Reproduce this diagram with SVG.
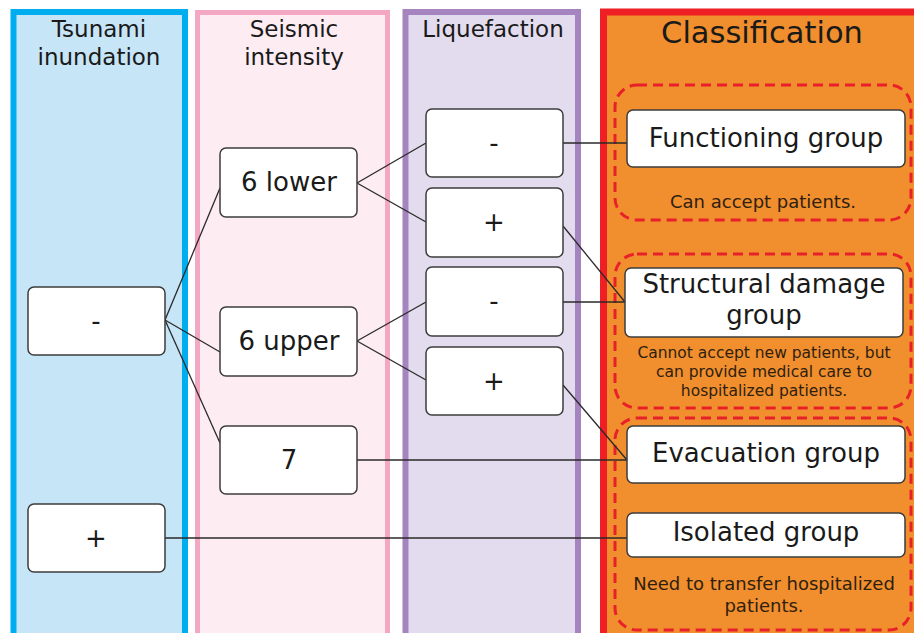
<svg xmlns="http://www.w3.org/2000/svg" width="914" height="633" viewBox="0 0 914 633">
<style>
.col{stroke-width:6}
.box{fill:#ffffff;stroke:#3c3c3c;stroke-width:1.5}
.t{font-family:"DejaVu Sans",Verdana,sans-serif;fill:#1a1a1a;text-anchor:middle}
.h{font-size:23px}
.b{font-size:26px}
.d{font-size:18px;fill:#2e1f10}
.ds{font-size:15.5px}
.dash{fill:none;stroke:#e8202a;stroke-width:3;stroke-dasharray:10 6}
.c{stroke:#2a2a2a;stroke-width:1.3;fill:none}
</style>
<rect x="0" y="0" width="914" height="633" fill="#ffffff"/>
<g id="columns">
<rect class="col" x="13.5" y="12" width="171.5" height="640" fill="#c6e5f7" stroke="#00aeef"/>
<rect class="col" x="197.5" y="12.5" width="190" height="640" fill="#fdecf2" stroke="#f3a7c3" style="stroke-width:5"/>
<rect class="col" x="405.5" y="12" width="172.5" height="640" fill="#e3dcee" stroke="#a584c0"/>
<rect x="603.5" y="12" width="330" height="640" fill="#f18e2d" stroke="#ee1f25" stroke-width="7"/>
<text class="t h" x="99" y="37">Tsunami</text>
<text class="t h" x="99" y="65">inundation</text>
<text class="t h" x="294" y="37">Seismic</text>
<text class="t h" x="294" y="65">intensity</text>
<text class="t h" x="493" y="37">Liquefaction</text>
<text class="t" x="762" y="43" style="font-size:30.5px">Classification</text>
</g>
<g id="regions">
<rect class="dash" x="615" y="85" width="296" height="135" rx="22"/>
<rect class="dash" x="615" y="254" width="296" height="154" rx="22"/>
<rect class="dash" x="615" y="418" width="296" height="212" rx="22"/>
</g>
<g id="connectors">
<line class="c" x1="165" y1="320" x2="220" y2="188"/>
<line class="c" x1="165" y1="320" x2="220" y2="352"/>
<line class="c" x1="165" y1="320" x2="220" y2="443"/>
<line class="c" x1="165" y1="538" x2="627" y2="538"/>
<line class="c" x1="357" y1="183" x2="426" y2="143"/>
<line class="c" x1="357" y1="183" x2="426" y2="222"/>
<line class="c" x1="357" y1="341" x2="426" y2="302"/>
<line class="c" x1="357" y1="341" x2="426" y2="380"/>
<line class="c" x1="357" y1="460" x2="627" y2="460"/>
<line class="c" x1="563" y1="143" x2="627" y2="143"/>
<line class="c" x1="563" y1="226" x2="625" y2="302"/>
<line class="c" x1="563" y1="302" x2="625" y2="302"/>
<line class="c" x1="563" y1="385" x2="627" y2="460"/>
</g>
<g id="tsunami-minus"><rect class="box" x="28" y="287" width="137" height="68" rx="6"/><text class="t b" x="96" y="330">-</text></g>
<g id="tsunami-plus"><rect class="box" x="28" y="504" width="137" height="68" rx="6"/><text class="t b" x="96" y="547">+</text></g>
<g id="seismic-6lower"><rect class="box" x="220" y="148" width="137" height="69" rx="6"/><text class="t b" x="289" y="191">6 lower</text></g>
<g id="seismic-6upper"><rect class="box" x="220" y="307" width="137" height="69" rx="6"/><text class="t b" x="289" y="350">6 upper</text></g>
<g id="seismic-7"><rect class="box" x="220" y="426" width="137" height="68" rx="6"/><text class="t b" x="289" y="469">7</text></g>
<g id="liq-1"><rect class="box" x="426" y="109" width="137" height="68" rx="6"/><text class="t b" x="494" y="152">-</text></g>
<g id="liq-2"><rect class="box" x="426" y="188" width="137" height="69" rx="6"/><text class="t b" x="494" y="231">+</text></g>
<g id="liq-3"><rect class="box" x="426" y="267" width="137" height="69" rx="6"/><text class="t b" x="494" y="310">-</text></g>
<g id="liq-4"><rect class="box" x="426" y="347" width="137" height="68" rx="6"/><text class="t b" x="494" y="390">+</text></g>
<g id="functioning"><rect class="box" x="627" y="110" width="278" height="57" rx="6"/><text class="t b" x="766" y="147">Functioning group</text><text class="t d" x="763" y="208">Can accept patients.</text></g>
<g id="structural"><rect class="box" x="625" y="268" width="278" height="69" rx="6"/><text class="t b" x="764" y="293">Structural damage</text><text class="t b" x="764" y="324">group</text><text class="t d ds" x="764" y="358">Cannot accept new patients, but</text><text class="t d ds" x="764" y="377">can provide medical care to</text><text class="t d ds" x="764" y="396">hospitalized patients.</text></g>
<g id="evacuation"><rect class="box" x="627" y="426" width="278" height="57" rx="6"/><text class="t b" x="766" y="462">Evacuation group</text></g>
<g id="isolated"><rect class="box" x="627" y="513" width="278" height="44" rx="6"/><text class="t b" x="766" y="541">Isolated group</text><text class="t d" x="764" y="590">Need to transfer hospitalized</text><text class="t d" x="764" y="612">patients.</text></g>
</svg>
